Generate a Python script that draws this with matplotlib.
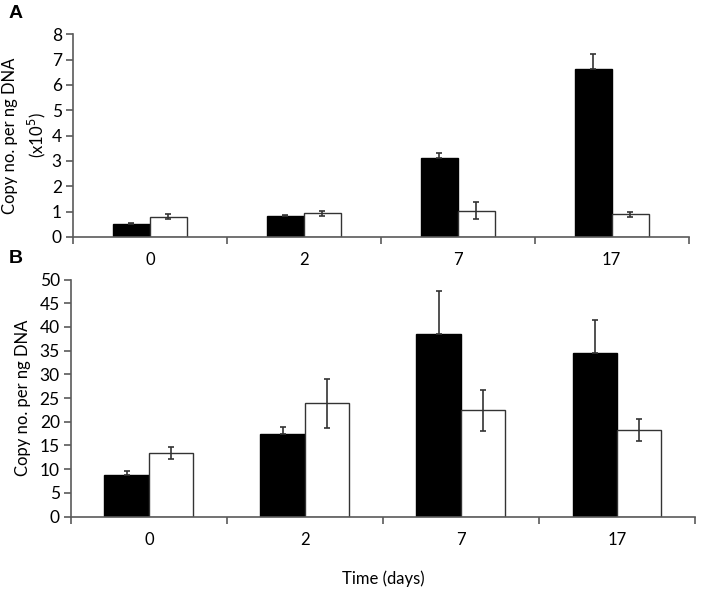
import numpy as np
from matplotlib import pyplot as plt

plt.rcParams['font.family'] = ['Lato', 'DejaVu Sans']

# Data
days = ['0', '2', '7', '17']

# Panel A (x10^5 copies per ng DNA)
a_black = [0.51, 0.82, 3.10, 6.63]
a_black_err = [0.03, 0.03, 0.22, 0.59]
a_white = [0.80, 0.93, 1.04, 0.89]
a_white_err = [0.09, 0.11, 0.33, 0.10]

# Panel B (copies per ng DNA)
b_black = [8.7, 17.4, 38.6, 34.4]
b_black_err = [0.9, 1.4, 9.0, 7.0]
b_white = [13.4, 23.9, 22.4, 18.3]
b_white_err = [1.3, 5.2, 4.4, 2.3]

axis_col = '#5a5a5a'


def draw_panel(ax, black, black_err, white, white_err, width, ymax, ystep):
    x = np.arange(len(days))
    ebk = dict(ecolor='#333333', elinewidth=1.2, capsize=2.5, capthick=1.2)
    # black bars only show the upper error
    ax.bar(x - width / 2, black, width, color='black', edgecolor='black',
           yerr=[np.zeros(len(black)), black_err], error_kw=ebk, zorder=2)
    ax.bar(x + width / 2, white, width, color='white', edgecolor='#333333',
           linewidth=1.0, yerr=white_err, error_kw=ebk, zorder=2)
    ax.set_xlim(-0.5, len(days) - 0.5)
    ax.set_ylim(0, ymax)
    ax.set_yticks(np.arange(0, ymax + 0.1, ystep))
    # ticks on category boundaries, labels at centres
    ax.set_xticks(np.arange(-0.5, len(days), 1.0))
    ax.set_xticklabels([])
    ax.set_xticks(x, minor=True)
    ax.set_xticklabels(days, minor=True)
    ax.tick_params(axis='x', which='minor', length=0, pad=11, labelsize=12)
    ax.tick_params(axis='x', which='major', length=5, width=1.2, color=axis_col)
    ax.tick_params(axis='y', length=5, width=1.2, color=axis_col, labelsize=12.5, pad=3)
    for s in ['top', 'right']:
        ax.spines[s].set_visible(False)
    for s in ['left', 'bottom']:
        ax.spines[s].set_color(axis_col)
        ax.spines[s].set_linewidth(1.2)


fig = plt.figure(figsize=(7.02, 5.91), dpi=100)

axA = fig.add_axes([0.104, 0.599, 0.877, 0.343])
draw_panel(axA, a_black, a_black_err, a_white, a_white_err, 0.24, 8, 1)
axA.set_ylabel('Copy no. per ng DNA\n(x10$^5$)', fontsize=12, labelpad=3,
               linespacing=1.4)

axB = fig.add_axes([0.101, 0.126, 0.889, 0.401])
draw_panel(axB, b_black, b_black_err, b_white, b_white_err, 0.285, 50, 5)
axB.set_ylabel('Copy no. per ng DNA', fontsize=12, labelpad=6)
axB.set_xlabel('Time (days)', fontsize=12, labelpad=16)

fig.text(0.012, 0.978, 'A', fontsize=14, fontweight='bold', va='center',
         family='Liberation Sans')
fig.text(0.012, 0.563, 'B', fontsize=14, fontweight='bold', va='center',
         family='Liberation Sans')

fig.savefig('out.png', dpi=100)
